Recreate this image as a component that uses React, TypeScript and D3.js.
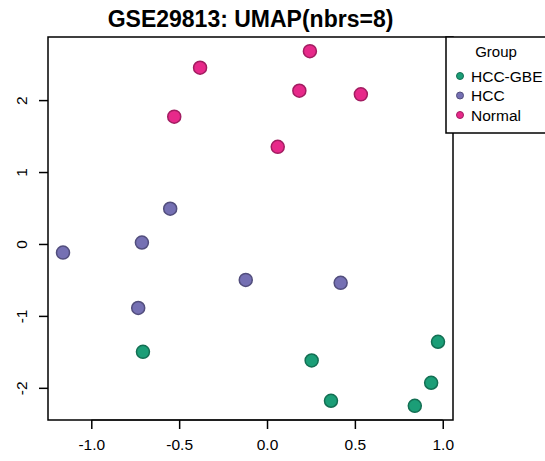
import React, { useEffect, useRef } from "react";
import * as d3 from "d3";

const groups = ["HCC-GBE", "HCC", "Normal"];
const groupColors = ["#1b9e77", "#7570b3", "#e7298a"];

const normalX = [0.244, -0.381, 0.184, 0.534, -0.528, 0.061];
const normalY = [2.68, 2.45, 2.13, 2.08, 1.77, 1.35];
const hccX = [-0.551, -0.712, -1.161, -0.121, 0.419, -0.733];
const hccY = [0.49, 0.02, -0.12, -0.5, -0.54, -0.89];
const gbeX = [-0.706, 0.254, 0.973, 0.934, 0.364, 0.841];
const gbeY = [-1.5, -1.62, -1.36, -1.93, -2.18, -2.25];

const xTicks = [-1.0, -0.5, 0.0, 0.5, 1.0];
const yTicks = [-2, -1, 0, 1, 2];

const FONT = "'Liberation Sans', Arial, Helvetica, sans-serif";

// R style 4% padding of the data range
function rRange(vals: number[]): [number, number] {
  const lo = d3.min(vals)!;
  const hi = d3.max(vals)!;
  const pad = (hi - lo) * 0.04;
  return [lo - pad, hi + pad];
}

export default function App() {
  const ref = useRef<SVGSVGElement>(null);

  useEffect(() => {
    const width = 545;
    const height = 461;
    const box = { left: 48, right: 453, top: 37, bottom: 420 };

    const svg = d3.select(ref.current);
    svg.selectAll("*").remove();
    svg.attr("width", width).attr("height", height);

    const points = [
      ...normalX.map((x, i) => ({ x, y: normalY[i], g: "Normal" })),
      ...hccX.map((x, i) => ({ x, y: hccY[i], g: "HCC" })),
      ...gbeX.map((x, i) => ({ x, y: gbeY[i], g: "HCC-GBE" })),
    ];

    const xScale = d3.scaleLinear().domain(rRange(points.map(d => d.x))).range([box.left, box.right]);
    const yScale = d3.scaleLinear().domain(rRange(points.map(d => d.y))).range([box.bottom, box.top]);
    const color = d3.scaleOrdinal<string>().domain(groups).range(groupColors);

    svg.append("rect").attr("width", width).attr("height", height).attr("fill", "white");

    // title
    svg.append("text")
      .attr("x", (box.left + box.right) / 2)
      .attr("y", 27)
      .attr("text-anchor", "middle")
      .style("font-family", FONT)
      .style("font-size", "23px")
      .style("font-weight", "bold")
      .text("GSE29813: UMAP(nbrs=8)");

    // x axis
    const xAxis = svg.append("g")
      .attr("transform", `translate(0, ${box.bottom})`)
      .call(d3.axisBottom(xScale).tickValues(xTicks).tickFormat(d => (+d).toFixed(1)).tickSize(9).tickPadding(10));
    xAxis.select(".domain").attr("d", `M${xScale(xTicks[0])},0H${xScale(xTicks[xTicks.length - 1])}`);
    xAxis.selectAll("line").attr("stroke-width", 1.5);
    xAxis.selectAll("text").style("font-family", FONT).style("font-size", "15.5px").attr("fill", "black");

    // y axis
    const yAxis = svg.append("g")
      .attr("transform", `translate(${box.left}, 0)`)
      .call(d3.axisLeft(yScale).tickValues(yTicks).tickFormat(d => String(d)).tickSize(9));
    yAxis.select(".domain").remove();
    yAxis.selectAll("line").attr("stroke-width", 1.5);
    yAxis.selectAll("text")
      .attr("x", null)
      .attr("dy", null)
      .attr("text-anchor", "middle")
      .attr("transform", "translate(-22, 0) rotate(-90) translate(0, -3)")
      .attr("dominant-baseline", "middle")
      .style("font-family", FONT)
      .style("font-size", "15.5px")
      .attr("fill", "black");
    yAxis.selectAll(".tick text").attr("y", 0);

    // frame
    svg.append("rect")
      .attr("x", box.left)
      .attr("y", box.top)
      .attr("width", box.right - box.left)
      .attr("height", box.bottom - box.top)
      .attr("fill", "none")
      .attr("stroke", "black")
      .attr("stroke-width", 1.5);

    // points
    svg.append("g").selectAll("circle")
      .data(points)
      .enter()
      .append("circle")
      .attr("cx", d => xScale(d.x))
      .attr("cy", d => yScale(d.y))
      .attr("r", 6.5)
      .attr("fill", d => color(d.g))
      .attr("stroke", d => d3.color(color(d.g))!.darker(1).formatHex())
      .attr("stroke-width", 1.5);

    // legend
    const lg = svg.append("g");
    lg.append("rect")
      .attr("x", 446)
      .attr("y", box.top)
      .attr("width", 120)
      .attr("height", 133 - box.top)
      .attr("fill", "white")
      .attr("stroke", "black")
      .attr("stroke-width", 1.5);
    lg.append("text")
      .attr("x", 496)
      .attr("y", 57)
      .attr("text-anchor", "middle")
      .style("font-family", FONT)
      .style("font-size", "15px")
      .text("Group");
    groups.forEach((g, i) => {
      const cy = 76 + i * 19.5;
      lg.append("circle")
        .attr("cx", 460)
        .attr("cy", cy)
        .attr("r", 3.5)
        .attr("fill", color(g))
        .attr("stroke", d3.color(color(g))!.darker(1).formatHex())
        .attr("stroke-width", 1);
      lg.append("text")
        .attr("x", 471)
        .attr("y", cy + 5.5)
        .style("font-family", FONT)
        .style("font-size", "15.5px")
        .text(g);
    });
  }, []);

  return (
    <svg ref={ref} style={{ position: "absolute", left: 0, top: 0 }} />
  );
}
